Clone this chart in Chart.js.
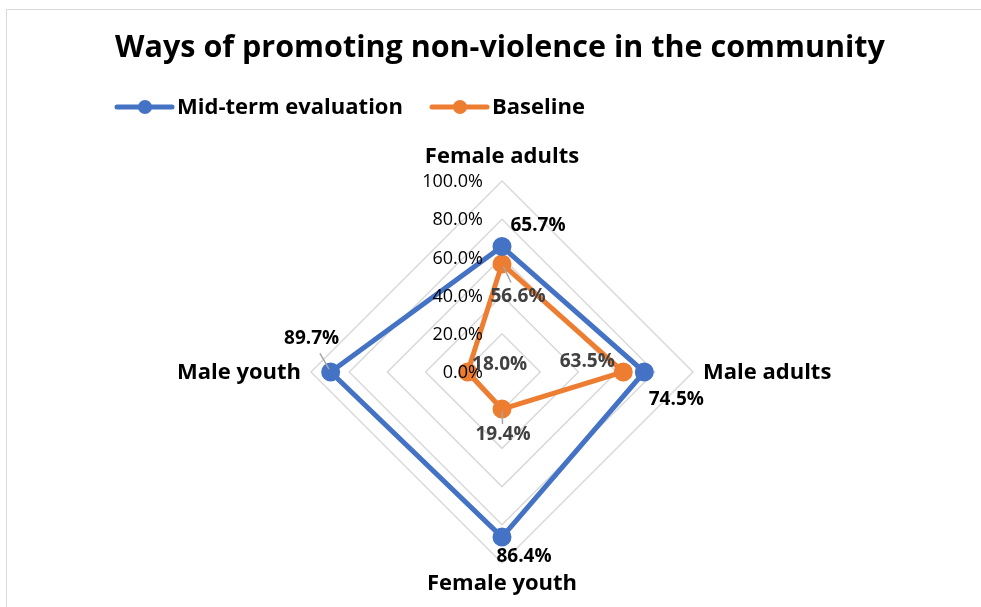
<!DOCTYPE html>
<html>
<head>
<meta charset="utf-8">
<script src="https://cdn.jsdelivr.net/npm/chart.js@4.4.1/dist/chart.umd.min.js"></script>
<style>
  html, body { margin: 0; padding: 0; background: #fff; overflow: hidden; }
  #wrap { position: relative; width: 981px; height: 607px; }
  #frame { position: absolute; left: 6px; top: 9px; width: 1200px; height: 800px; border-left: 1px solid #d9d9d9; border-top: 1px solid #d9d9d9; }
  canvas { position: absolute; left: 0; top: 0; }
</style>
</head>
<body>
<div id="wrap">
  <div id="frame"></div>
  <canvas id="radarChart" width="981" height="607"></canvas>
</div>
<script>
const categories = ["Female adults", "Male adults", "Female youth", "Male youth"];
const midTerm = [65.7, 74.5, 86.4, 89.7];
const baseline = [56.6, 63.5, 19.4, 18.0];
const tickValues = [0, 20, 40, 60, 80, 100];

const FONT = "'Open Sans', Lato, sans-serif";
const BLUE = "#4472C4";
const ORANGE = "#ED7D31";

// label offsets from each point: [dx, dy, leader line?]
const midOffsets = [[36, -21], [32, 28], [22, 20], [-19, -33, true]];
const baseOffsets = [[16, 33, true], [-36, -10], [1, 26, true], [32, -7]];

const pct = v => v.toFixed(1) + "%";

const decorations = {
  id: "decorations",
  afterDraw(chart) {
    const { ctx } = chart;
    const scale = chart.scales.r;
    const cx = scale.xCenter, cy = scale.yCenter;
    ctx.save();

    // title
    ctx.fillStyle = "#000";
    ctx.textAlign = "center";
    ctx.textBaseline = "middle";
    ctx.font = `bold 30.5px ${FONT}`;
    ctx.fillText("Ways of promoting non-violence in the community", 500, 48);

    // legend
    const legend = [["Mid-term evaluation", BLUE, 117], ["Baseline", ORANGE, 432]];
    ctx.font = `bold 22px ${FONT}`;
    ctx.textAlign = "left";
    legend.forEach(([text, color, x]) => {
      ctx.strokeStyle = color;
      ctx.lineWidth = 5;
      ctx.lineCap = "round";
      ctx.beginPath();
      ctx.moveTo(x, 107);
      ctx.lineTo(x + 55, 107);
      ctx.stroke();
      ctx.fillStyle = color;
      ctx.beginPath();
      ctx.arc(x + 28, 107, 7, 0, Math.PI * 2);
      ctx.fill();
      ctx.fillStyle = "#000";
      ctx.fillText(text, x + 60, 108);
    });

    // tick labels left of the vertical axis
    ctx.font = `18px ${FONT}`;
    ctx.textAlign = "right";
    ctx.fillStyle = "#000";
    tickValues.forEach(v => {
      const d = scale.getDistanceFromCenterForValue(v);
      ctx.fillText(pct(v), cx - 19, cy - d + 1);
    });

    // category labels
    ctx.font = `bold 22px ${FONT}`;
    const outer = scale.getDistanceFromCenterForValue(100);
    const spots = [
      [cx, cy - outer - 24, "center"],
      [cx + outer + 10, cy + 1, "left"],
      [cx, cy + outer + 21, "center"],
      [cx - outer - 10, cy + 1, "right"]
    ];
    categories.forEach((name, i) => {
      ctx.textAlign = spots[i][2];
      ctx.fillText(name, spots[i][0], spots[i][1]);
    });

    // data labels
    const drawLabels = (dsIndex, offsets, color) => {
      const meta = chart.getDatasetMeta(dsIndex);
      const values = chart.data.datasets[dsIndex].data;
      meta.data.forEach((pt, i) => {
        const [dx, dy, leader] = offsets[i];
        const lx = pt.x + dx, ly = pt.y + dy;
        if (leader) {
          ctx.strokeStyle = "#a6a6a6";
          ctx.lineWidth = 1.5;
          ctx.beginPath();
          ctx.moveTo(pt.x + dx * 0.1, pt.y + dy * 0.1);
          ctx.lineTo(pt.x + dx * 0.55, pt.y + dy * 0.55);
          ctx.stroke();
        }
        ctx.font = `bold 19px ${FONT}`;
        ctx.textAlign = "center";
        ctx.fillStyle = color;
        ctx.fillText(pct(values[i]), lx, ly);
      });
    };
    drawLabels(0, midOffsets, "#000");
    drawLabels(1, baseOffsets, "#404040");
    ctx.restore();
  }
};

new Chart(document.getElementById("radarChart"), {
  type: "radar",
  data: {
    labels: categories,
    datasets: [
      { label: "Mid-term evaluation", data: midTerm, borderColor: BLUE, backgroundColor: BLUE, pointBackgroundColor: BLUE, pointBorderColor: BLUE, borderWidth: 5, pointRadius: 7, fill: false },
      { label: "Baseline", data: baseline, borderColor: ORANGE, backgroundColor: ORANGE, pointBackgroundColor: ORANGE, pointBorderColor: ORANGE, borderWidth: 5, pointRadius: 7, fill: false }
    ]
  },
  options: {
    responsive: false,
    animation: false,
    layout: { padding: { left: 311, right: 288, top: 181, bottom: 44 } },
    plugins: { legend: { display: false }, title: { display: false }, tooltip: { enabled: false } },
    scales: {
      r: {
        min: 0,
        max: 100,
        ticks: { stepSize: 20, display: false },
        grid: { color: "#d9d9d9", lineWidth: 1.5, circular: false },
        angleLines: { display: false },
        pointLabels: { display: false }
      }
    }
  },
  plugins: [decorations]
});
</script>
</body>
</html>
